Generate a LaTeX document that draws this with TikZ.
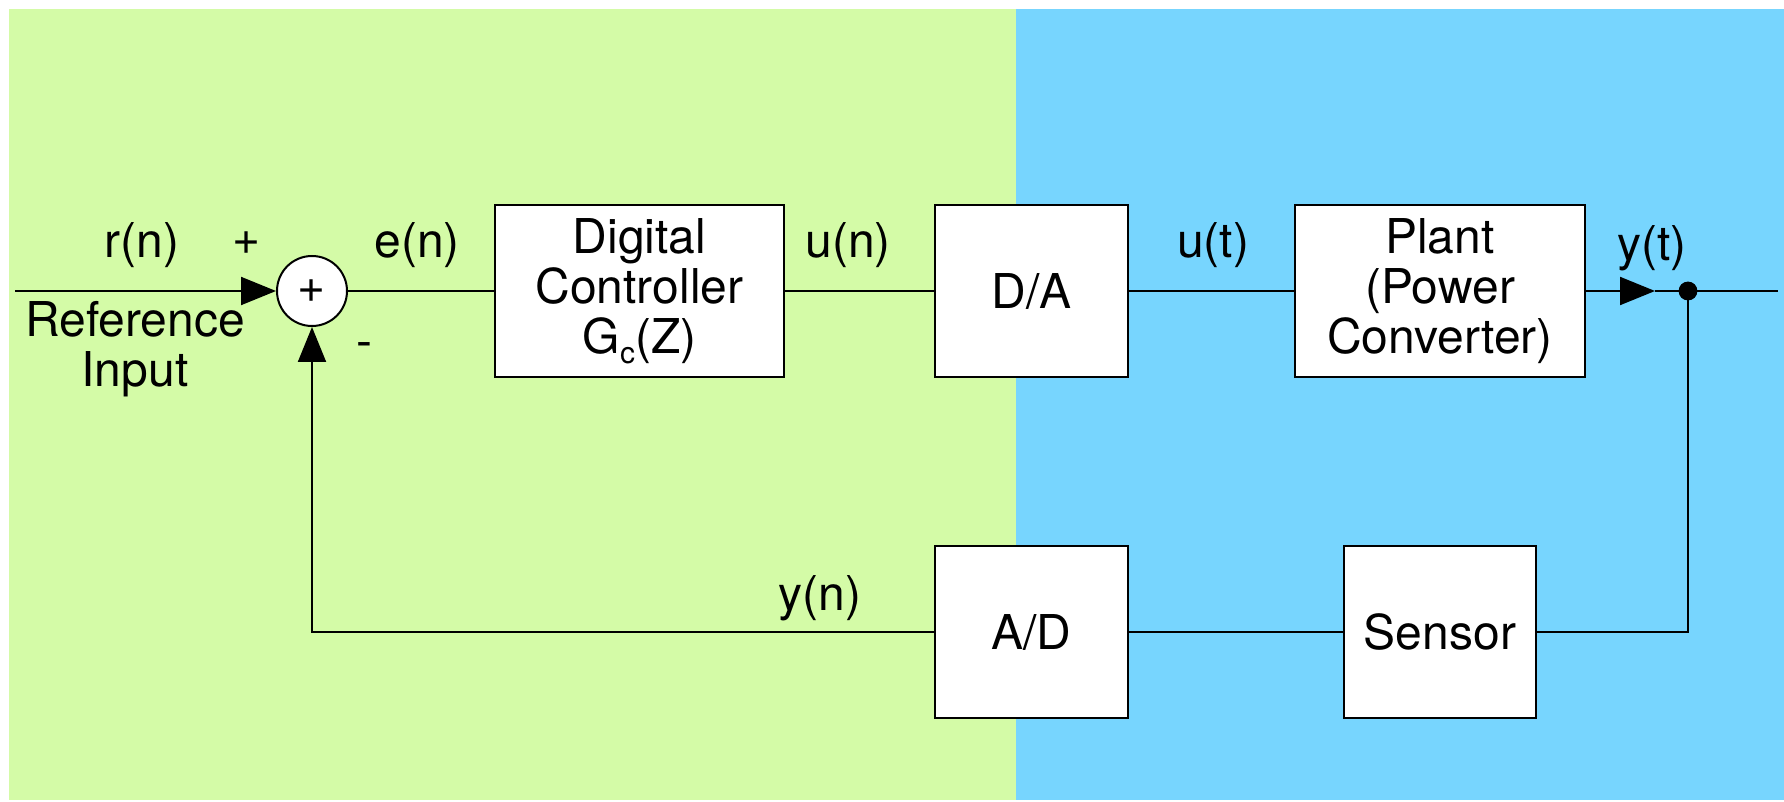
\documentclass[tikz,border=0pt]{standalone}
\usepackage{fontspec}
\setmainfont{TeX Gyre Heros}
\usetikzlibrary{arrows.meta}
\definecolor{zonaverde}{HTML}{D4FBA7}
\definecolor{zonaazul}{HTML}{77D5FE}
\begin{document}
\begin{tikzpicture}[x=0.5pt, y=-0.5pt, line width=1pt,
        font=\fontsize{24}{25}\selectfont,
        bloque/.style={draw, fill=white, minimum width=#1, minimum height=86pt, align=center, inner sep=0pt},
        sumador/.style={draw, fill=white, circle, minimum size=35pt, inner sep=0pt},
        flecha/.style={-{Triangle[length=17.5pt, width=14pt]}}]
            \useasboundingbox (0,0) rectangle (1784,802);

            % Zonas de fondo
            \fill[zonaverde] (9,9) rectangle (1016,800);
            \fill[zonaazul] (1016,9) rectangle (1784,800);

            % Bloques
            \node[sumador] (sum) at (312,291) {+};
            \node[bloque=144.5pt] (ctrl) at (639.5,291) {Digital\\Controller\\G\raisebox{-0.4ex}{\fontsize{15}{15}\selectfont c}(Z)};
            \node[bloque=96.5pt] (dac) at (1031.5,291) {D/A};
            \node[bloque=145pt] (plant) at (1440,291) {Plant\\(Power\\Converter)};
            \node[bloque=96.5pt] (adc) at (1031.5,632) {A/D};
            \node[bloque=96pt] (sensor) at (1440,632) {Sensor};

            % Puntos auxiliares
            \coordinate (in) at (15,291);
            \coordinate (ytip) at (1655,291);
            \coordinate (out) at (1778,291);
            \filldraw (1688,291) circle (4.2pt) coordinate (tap);

            % Conexiones
            \draw[flecha] (in) -- (sum.west);
            \draw (sum) -- (ctrl) (ctrl) -- (dac) (dac) -- (plant);
            \draw[flecha] (plant.east) -- (ytip);
            \draw (ytip) -- (tap) -- (out);
            \draw (tap) |- (sensor.east);
            \draw (sensor) -- (adc);
            \draw[flecha] (adc.west) -| (sum.south);

            % Etiquetas de las señales
            \node (rlbl) at (142,245) {r(n)};
            \node (plus) at (247,243) {+};
            \node (minus) at (364,350) {-};
            \node (elbl) at (417,245) {e(n)};
            \node (unlbl) at (848,245) {u(n)};
            \node (utlbl) at (1213,245) {u(t)};
            \node (ytlbl) at (1652,248) {y(t)};
            \node (ynlbl) at (820,598) {y(n)};
            \node[align=center] (reflbl) at (135,349) {Reference\\Input};
        \end{tikzpicture}
\end{document}
